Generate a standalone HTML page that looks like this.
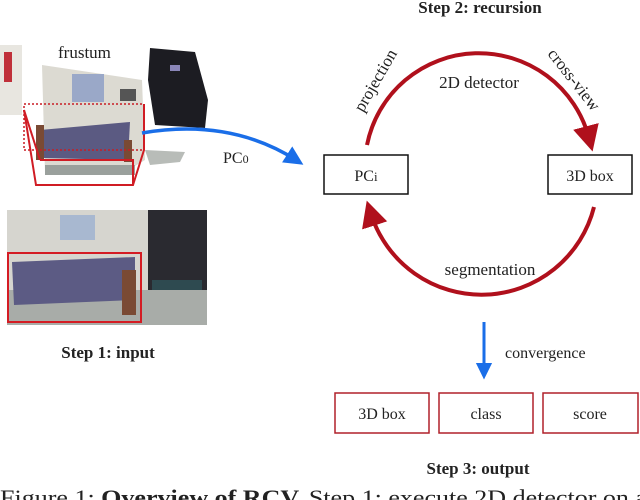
<!DOCTYPE html>
<html><head><style>
html,body{margin:0;padding:0;background:#fff;width:640px;height:500px;overflow:hidden}
svg{display:block}
text{font-family:"Liberation Serif",serif;fill:#222}
</style></head><body>
<svg width="640" height="500" viewBox="0 0 640 500">
<defs>
<marker id="ar" markerWidth="7" markerHeight="7" refX="3" refY="3.5" orient="auto" markerUnits="strokeWidth"><path d="M0,0.2 L6.5,3.5 L0,6.8 Z" fill="#b0101c"/></marker>
<marker id="ab" markerWidth="6" markerHeight="6" refX="3" refY="3" orient="auto" markerUnits="strokeWidth"><path d="M0,0.3 L5.5,3 L0,5.7 Z" fill="#1a6ee8"/></marker>
</defs>
<!-- top point cloud -->
<rect x="0" y="45" width="22" height="70" fill="#e8e6e0"/>
<rect x="4" y="52" width="8" height="30" fill="#c0303a"/>
<polygon points="42,65 142,80 145,160 120,175 45,172" fill="#dcdad2"/>
<rect x="72" y="74" width="32" height="28" fill="#9aa8c8"/>
<rect x="120" y="89" width="16" height="12" fill="#555"/>
<polygon points="150,48 195,52 208,100 205,128 155,125 148,80" fill="#1c1c22"/>
<rect x="170" y="65" width="10" height="6" fill="#8a86b8"/>
<polygon points="145,150 185,152 180,162 150,165" fill="#b8bcb8"/>
<polygon points="40,130 130,122 128,160 42,158" fill="#5b5a82"/>
<rect x="36" y="125" width="8" height="35" fill="#7a4a34"/>
<rect x="124" y="140" width="8" height="22" fill="#7a4a34"/>
<rect x="45" y="165" width="90" height="10" fill="#9aa09c"/>
<!-- frustum -->
<rect x="24" y="104" width="120" height="46" fill="none" stroke="#c81c24" stroke-width="1.5" stroke-dasharray="2,2"/>
<polyline points="24,110 36,185 133,185 144,150 144,104" fill="none" stroke="#d01c24" stroke-width="2"/>
<polyline points="40,160 133,160 133,185" fill="none" stroke="#d01c24" stroke-width="2"/>
<line x1="24" y1="110" x2="40" y2="160" stroke="#d01c24" stroke-width="2"/>
<text x="58" y="58" font-size="17">frustum</text>
<!-- PC0 arrow -->
<path d="M142,133 Q230,118 296,160" fill="none" stroke="#1a6ee8" stroke-width="3.5" marker-end="url(#ab)"/>
<text x="223" y="163" font-size="16">PC<tspan font-size="12">0</tspan></text>
<!-- bottom photo -->
<rect x="7" y="210" width="200" height="115" fill="#d6d5cf"/>
<rect x="148" y="210" width="59" height="105" fill="#2a2a30"/>
<rect x="152" y="280" width="50" height="30" fill="#2e4a50"/>
<rect x="60" y="215" width="35" height="25" fill="#a8b8d0"/>
<rect x="7" y="290" width="200" height="35" fill="#a8aca8"/>
<polygon points="12,262 135,257 135,300 14,305" fill="#5c5b84"/>
<rect x="122" y="270" width="14" height="45" fill="#7a4a34"/>
<rect x="8" y="253" width="133" height="69" fill="none" stroke="#d41c24" stroke-width="2"/>
<text x="108" y="358" font-size="17" font-weight="bold" text-anchor="middle">Step 1: input</text>
<!-- step 2 -->
<text x="480" y="13" font-size="17" font-weight="bold" text-anchor="middle">Step 2: recursion</text>
<path d="M367,145 A114,114 0 0 1 589,138" fill="none" stroke="#b0101c" stroke-width="4" marker-end="url(#ar)"/>
<path d="M594,207 A116,116 0 0 1 371,214" fill="none" stroke="#b0101c" stroke-width="4" marker-end="url(#ar)"/>
<rect x="324" y="155" width="84" height="39" fill="#fff" stroke="#111" stroke-width="1.5"/>
<text x="366" y="181" font-size="16" text-anchor="middle">PC<tspan font-size="13">i</tspan></text>
<rect x="548" y="155" width="84" height="39" fill="#fff" stroke="#111" stroke-width="1.5"/>
<text x="590" y="181" font-size="16" text-anchor="middle">3D box</text>
<text x="479" y="88" font-size="17" text-anchor="middle">2D detector</text>
<text transform="translate(363,113) rotate(-60)" font-size="17">projection</text>
<text transform="translate(547,54) rotate(52)" font-size="17">cross-view</text>
<text x="490" y="275" font-size="17" text-anchor="middle">segmentation</text>
<!-- step 3 -->
<line x1="484" y1="322" x2="484" y2="372" stroke="#1a6ee8" stroke-width="3" marker-end="url(#ab)"/>
<text x="505" y="358" font-size="16">convergence</text>
<rect x="335" y="393" width="94" height="40" fill="none" stroke="#b0202a" stroke-width="1.5"/>
<text x="382" y="419" font-size="16" text-anchor="middle">3D box</text>
<rect x="439" y="393" width="94" height="40" fill="none" stroke="#b0202a" stroke-width="1.5"/>
<text x="486" y="419" font-size="16" text-anchor="middle">class</text>
<rect x="543" y="393" width="95" height="40" fill="none" stroke="#b0202a" stroke-width="1.5"/>
<text x="590" y="419" font-size="16" text-anchor="middle">score</text>
<text x="478" y="474" font-size="17" font-weight="bold" text-anchor="middle">Step 3: output</text>
<text x="0" y="505" font-size="22" textLength="660" lengthAdjust="spacingAndGlyphs">Figure 1: <tspan font-weight="bold">Overview of RCV.</tspan> Step 1: execute 2D detector on an</text>
</svg>
</body></html>
